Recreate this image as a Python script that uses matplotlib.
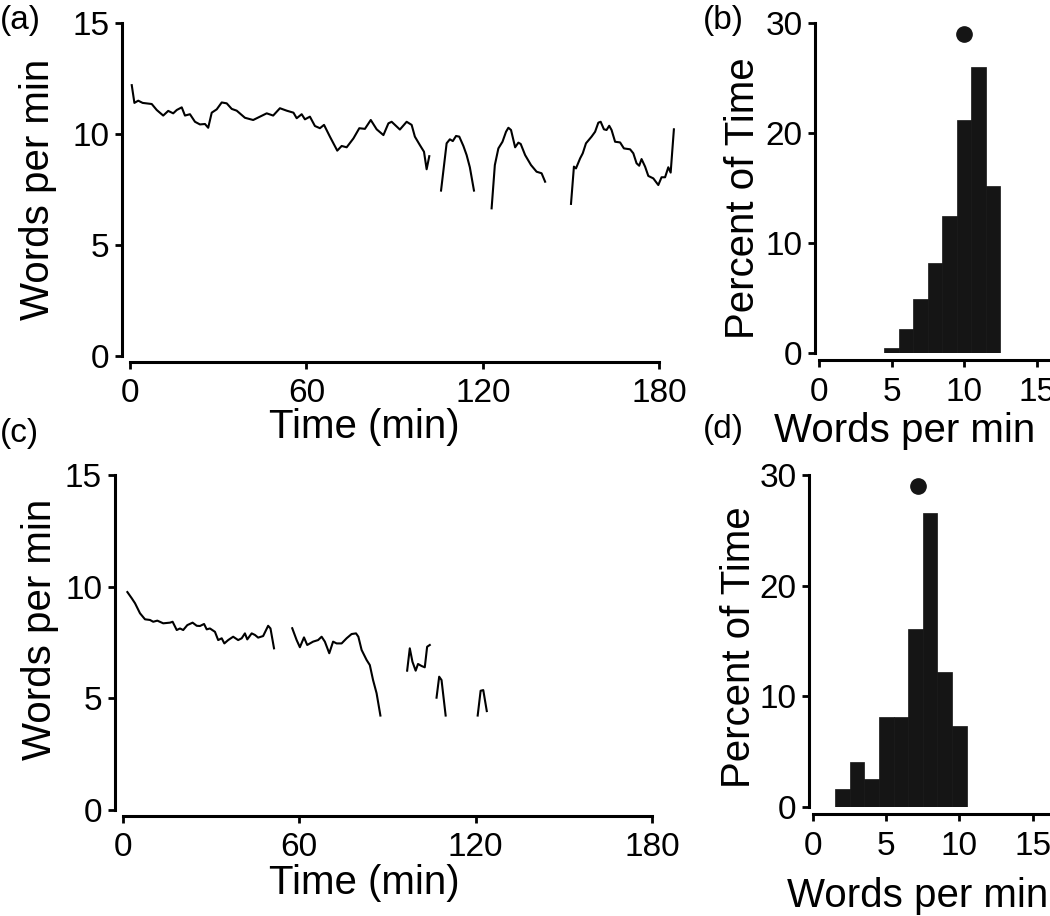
import matplotlib
matplotlib.use("Agg")
import matplotlib.pyplot as plt
import numpy as np

plt.rcParams["font.family"] = ["Liberation Sans", "DejaVu Sans"]

# (a) words per minute over time, session 1 (segments split by gaps)
a_t = [
    [0.6, 1.5, 2.8, 4.3, 7.4, 9.1, 11.3, 13.0, 14.7, 15.9, 17.6, 18.7, 20.4, 22.1,
     23.8, 25.5, 26.6, 27.8, 29.5, 31.2, 32.9, 34.6, 36.3, 39.1, 41.9, 44.2, 46.5,
     48.7, 51.0, 53.3, 55.6, 56.7, 58.4, 59.5, 61.2, 62.9, 64.6, 66.0, 68.0, 70.5,
     72.0, 73.7, 76.0, 78.0, 79.9, 81.9, 83.9, 86.2, 87.9, 89.0, 91.8, 94.1, 95.8,
     96.9, 98.6, 100.0, 100.9, 101.8],
    [105.8, 107.7, 108.8, 109.8, 110.9, 112.0, 113.4, 114.5, 115.6, 117.0],
    [123.0, 124.1, 125.3, 126.7, 127.9, 128.7, 129.6, 131.0, 132.1, 132.9, 134.4,
     136.4, 138.3, 140.0, 141.2],
    [150.0, 151.0, 151.7, 153.1, 154.0, 155.1, 157.0, 158.2, 159.3, 160.1, 161.2,
     162.1, 163.0, 163.8, 165.0, 166.7, 168.0, 170.1, 171.2, 172.3, 173.2, 174.0,
     175.2, 176.3, 178.0, 179.7, 180.8, 182.0, 183.1, 183.9, 185.0],
]
a_wpm = [
    [12.2, 11.4, 11.5, 11.4, 11.35, 11.08, 10.83, 11.04, 10.93, 11.08, 11.2, 10.83,
     10.89, 10.55, 10.43, 10.45, 10.28, 10.96, 11.11, 11.42, 11.38, 11.13, 11.05,
     10.73, 10.63, 10.78, 10.93, 10.83, 11.16, 11.05, 10.96, 10.71, 10.89, 10.66,
     10.78, 10.36, 10.26, 10.41, 9.88, 9.25, 9.46, 9.40, 9.80, 10.26, 10.23, 10.63,
     10.21, 9.95, 10.48, 10.55, 10.2, 10.55, 10.41, 9.88, 9.5, 9.2, 8.41, 9.0],
    [7.45, 9.58, 9.76, 9.68, 9.91, 9.88, 9.46, 9.05, 8.50, 7.45],
    [6.65, 8.60, 9.35, 9.65, 10.10, 10.28, 10.18, 9.40, 9.61, 9.55, 9.05, 8.60,
     8.30, 8.23, 7.85],
    [6.85, 8.53, 8.45, 8.90, 9.13, 9.58, 9.88, 10.10, 10.51, 10.55, 10.21, 10.18,
     10.37, 10.18, 9.65, 9.62, 9.35, 9.31, 9.13, 8.68, 8.57, 8.87, 8.53, 8.11, 8.00,
     7.70, 8.05, 8.05, 8.50, 8.26, 10.21],
]

# (c) words per minute over time, session 2
c_t = [
    [1.5, 3.0, 4.1, 5.8, 7.5, 9.2, 10.3, 11.7, 13.7, 16.0, 16.9, 18.3, 19.4, 20.5,
     21.9, 23.7, 25.1, 26.2, 27.6, 28.5, 29.6, 31.3, 32.4, 33.6, 34.5, 35.8, 37.5,
     39.2, 40.4, 41.5, 42.3, 43.8, 44.9, 46.0, 47.7, 49.4, 50.2, 51.4],
    [57.6, 59.1, 60.2, 61.6, 62.7, 64.7, 66.4, 67.6, 68.7, 70.2, 71.5, 72.7, 74.4,
     76.1, 77.8, 79.3, 80.1, 81.2, 82.9, 84.0, 85.1, 86.3, 87.6],
    [96.7, 97.6, 98.5, 99.6, 100.4, 101.6, 102.7, 103.5, 104.4],
    [106.7, 107.6, 108.4, 109.8],
    [120.7, 121.7, 122.6, 123.8],
]
c_wpm = [
    [9.76, 9.48, 9.26, 8.81, 8.54, 8.51, 8.43, 8.48, 8.36, 8.39, 8.43, 8.06, 8.13,
     8.06, 8.28, 8.39, 8.25, 8.24, 8.33, 8.09, 8.13, 7.98, 7.61, 7.69, 7.46, 7.61,
     7.76, 7.61, 7.69, 7.91, 7.64, 7.91, 7.84, 7.72, 7.79, 8.25, 8.13, 7.24],
    [8.14, 7.61, 7.29, 7.73, 7.39, 7.54, 7.61, 7.76, 7.54, 7.02, 7.54, 7.46, 7.46,
     7.69, 7.88, 7.91, 7.76, 7.17, 6.72, 6.49, 5.82, 5.23, 4.23],
    [6.24, 7.24, 6.64, 6.24, 6.54, 6.45, 6.39, 7.31, 7.39],
    [5.03, 5.97, 5.82, 4.23],
    [4.23, 5.34, 5.37, 4.43],
]

# (b) histogram, session 1
b_bins = [5, 6, 7, 8, 9, 10, 11, 12]
b_pct = [0.5, 2.2, 4.9, 8.2, 12.5, 21.2, 26.0, 15.2]
b_median = (10.0, 29.0)

# (d) histogram, session 2
d_bins = [2, 3, 4, 5, 6, 7, 8, 9, 10]
d_pct = [1.6, 4.1, 2.5, 8.1, 8.1, 16.1, 26.6, 12.2, 7.3]
d_median = (7.2, 29.0)

TICK_FS = 24
LABEL_FS = 29

fig = plt.figure(figsize=(10.5, 9.16), dpi=100)


def style(ax, xoff, yoff):
    for s in ("top", "right"):
        ax.spines[s].set_visible(False)
    ax.spines["left"].set_position(("outward", xoff))
    ax.spines["bottom"].set_position(("outward", yoff))
    for s in ("left", "bottom"):
        ax.spines[s].set_linewidth(2.2)
    ax.tick_params(direction="out", length=5, width=2, labelsize=TICK_FS)
    ax.tick_params(axis="x", pad=7)
    ax.tick_params(axis="y", pad=4)


def time_panel(ax, ts, ws, xoff, xlab_pos, ylab_pos):
    for t, w in zip(ts, ws):
        ax.plot(t, w, color="black", lw=1.5)
    ax.set_xlim(0, 190)
    ax.set_ylim(0, 15)
    ax.set_xticks([0, 60, 120, 180])
    ax.set_yticks([0, 5, 10, 15])
    ax.spines["bottom"].set_bounds(0, 180)
    style(ax, xoff, 4)
    ax.set_xlabel("Time (min)", fontsize=LABEL_FS)
    ax.set_ylabel("Words per min", fontsize=LABEL_FS)
    ax.xaxis.set_label_coords(*xlab_pos)
    ax.yaxis.set_label_coords(*ylab_pos)


def hist_panel(ax, bins, pct, med, xlab_pos, ylab_pos):
    ax.bar(bins, pct, width=1.0, color="#151515", edgecolor="#151515", lw=0.5)
    ax.plot(*med, "o", color="#151515", ms=11)
    ax.set_xlim(0, 16.3)
    ax.set_ylim(0, 30)
    ax.set_xticks([0, 5, 10, 15])
    ax.set_yticks([0, 10, 20, 30])
    style(ax, 3, 5)
    ax.set_xlabel("Words per min", fontsize=LABEL_FS)
    ax.set_ylabel("Percent of Time", fontsize=LABEL_FS)
    ax.xaxis.set_label_coords(*xlab_pos)
    ax.yaxis.set_label_coords(*ylab_pos)


ax_a = fig.add_axes([0.1238, 0.6114, 0.532, 0.3635])
time_panel(ax_a, a_t, a_wpm, 6, (0.42, -0.155), (-0.13, 0.5))

ax_c = fig.add_axes([0.1171, 0.1157, 0.5318, 0.3657])
time_panel(ax_c, c_t, c_wpm, 6, (0.433, -0.16), (-0.115, 0.54))

ax_b = fig.add_axes([0.78, 0.6146, 0.2252, 0.3603])
hist_panel(ax_b, b_bins, b_pct, b_median, (0.364, -0.18), (-0.24, 0.47))

ax_d = fig.add_axes([0.7743, 0.119, 0.2273, 0.3624])
hist_panel(ax_d, d_bins, d_pct, d_median, (0.44, -0.21), (-0.23, 0.48))

fig.text(0.0, 0.978, "(a)", fontsize=TICK_FS, va="center", ha="left")
fig.text(0.669, 0.978, "(b)", fontsize=TICK_FS, va="center", ha="left")
fig.text(0.0, 0.527, "(c)", fontsize=TICK_FS, va="center", ha="left")
fig.text(0.669, 0.531, "(d)", fontsize=TICK_FS, va="center", ha="left")

fig.savefig("out.png", dpi=100)
